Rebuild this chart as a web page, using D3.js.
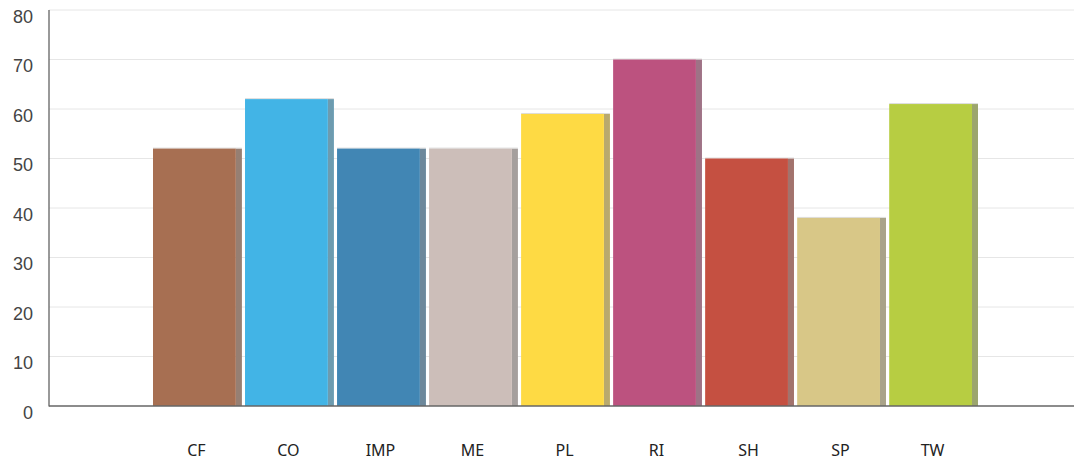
<!DOCTYPE html>
<html><head><meta charset="utf-8">
<script src="https://cdn.jsdelivr.net/npm/d3@7"></script>
<style>body{margin:0;background:#fff}svg{display:block}</style>
</head><body><svg id="c" width="1075" height="466"></svg>
<script>
const categories = ["CF","CO","IMP","ME","PL","RI","SH","SP","TW"];
const values = [52,62,52,52,59,70,50,38,61];
const colors = ["#A76F52","#42B4E6","#4186B4","#CCBEB9","#FEDA44","#BC527F","#C55041","#D8C787","#B7CD42"];
const yTicks = [0,10,20,30,40,50,60,70,80];

const svg = d3.select("#c");
const mLeft = 49, mRight = 1074, mTop = 10, mBottom = 406;
const y = d3.scaleLinear().domain([0,80]).range([mBottom, mTop]);
const x = d3.scaleBand().domain(categories).range([153, 978]).paddingInner(0.035).paddingOuter(0);

svg.append("g").selectAll("line").data(yTicks.filter(d=>d>0)).join("line")
  .attr("x1", mLeft).attr("x2", mRight).attr("y1", d=>y(d)).attr("y2", d=>y(d))
  .attr("stroke", "#e6e6e6").attr("stroke-width", 1);

svg.append("g").selectAll("text").data(yTicks).join("text")
  .attr("x", 33).attr("y", d=>y(d)+8).attr("text-anchor","end").attr("dominant-baseline","middle")
  .attr("font-family","Liberation Sans, Arial, sans-serif").attr("font-size", 18).attr("fill","#444")
  .text(d=>d);

const sh = 6;
const g = svg.append("g");
categories.forEach((c,i)=>{
  const bx = x(c), bw = x.bandwidth();
  const by = y(values[i]), bh = mBottom - by;
  g.append("rect").attr("x", bx+bw-sh).attr("y", by).attr("width", sh).attr("height", bh).attr("fill", colors[i]);
  g.append("rect").attr("x", bx+bw-sh).attr("y", by).attr("width", sh).attr("height", bh).attr("fill", "#8a8a8a").attr("opacity",0.6);
  g.append("rect").attr("x", bx).attr("y", by-1).attr("width", bw).attr("height", 1).attr("fill","#dddddd");
  g.append("rect").attr("x", bx).attr("y", by).attr("width", bw-sh).attr("height", bh).attr("fill", colors[i]);
});

svg.append("line").attr("x1", mLeft).attr("x2", mLeft).attr("y1", mTop).attr("y2", mBottom+0.5).attr("stroke","#555").attr("stroke-width",1.2);
svg.append("line").attr("x1", mLeft).attr("x2", mRight).attr("y1", mBottom).attr("y2", mBottom).attr("stroke","#666").attr("stroke-width",1.5);

svg.append("g").selectAll("text").data(categories).join("text")
  .attr("x", d=>x(d)+x.bandwidth()/2-1).attr("y", 452).attr("text-anchor","middle").attr("dominant-baseline","middle")
  .attr("font-family","Noto Sans, Open Sans, sans-serif").attr("font-size", 16).attr("fill","#222")
  .text(d=>d);
</script></body></html>
